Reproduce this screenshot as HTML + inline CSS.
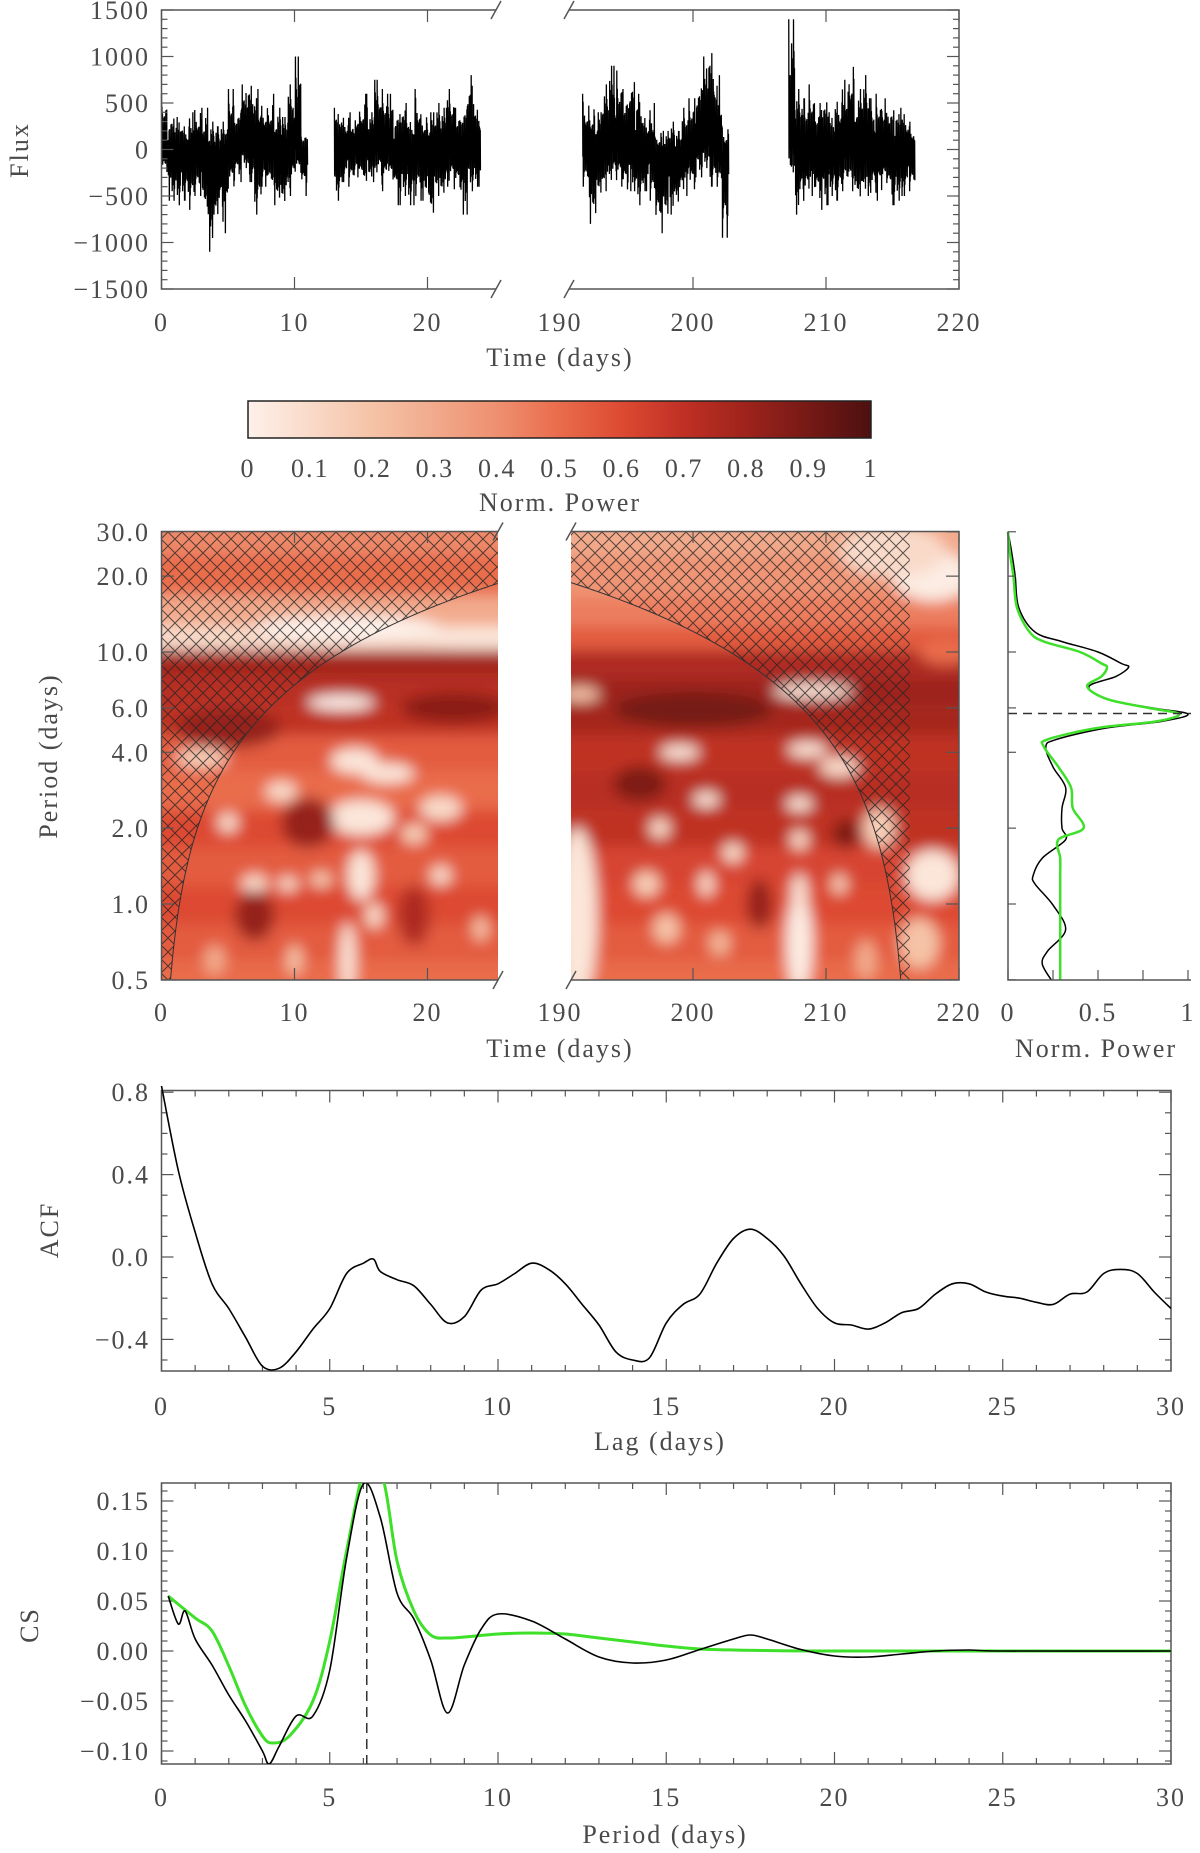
<!DOCTYPE html>
<html><head><meta charset="utf-8"><style>
html,body{margin:0;padding:0;background:#fff}
svg{display:block}
text{font-family:"Liberation Serif",serif;fill:#4a4a4a;font-size:26px;letter-spacing:2px}
</style></head><body>
<svg id="fig" width="1200" height="1853" viewBox="0 0 1200 1853" xmlns="http://www.w3.org/2000/svg">
<defs>
<pattern id="hatch" width="14" height="14" patternUnits="userSpaceOnUse">
<path d="M0,0 L14,14 M14,0 L0,14" stroke="#222" stroke-width="1" fill="none" opacity="0.75"/>
</pattern>
<filter id="blur" x="-5%" y="-5%" width="110%" height="110%"><feGaussianBlur stdDeviation="7"/></filter>
<linearGradient id="cbar" x1="0" x2="1" y1="0" y2="0">
<stop offset="0" stop-color="#fdf1ea"/><stop offset="0.2" stop-color="#f5c3a7"/><stop offset="0.4" stop-color="#ee9070"/>
<stop offset="0.5" stop-color="#e96c4c"/><stop offset="0.6" stop-color="#dd4a33"/><stop offset="0.7" stop-color="#bf3024"/>
<stop offset="0.8" stop-color="#9e231b"/><stop offset="1" stop-color="#4d1010"/></linearGradient>
<clipPath id="clipL"><rect x="161.5" y="531.5" width="336.5" height="448.5"/></clipPath>
<clipPath id="clipR"><rect x="571" y="531.5" width="388" height="448.5"/></clipPath>
<clipPath id="clipSide"><rect x="1000" y="531.5" width="200" height="448.5"/></clipPath>
<clipPath id="clipCS"><rect x="161.5" y="1483" width="1010" height="281"/></clipPath>
</defs>
<g id="g-flux"></g>
<g id="g-cbar"></g>
<g id="g-wave"></g>
<g id="g-side"></g>
<g id="g-acf"></g>
<g id="g-cs"></g>
</svg>
<script>
// ---------- data ----------
const fluxSeg1Start = 0;
const fluxSeg1 = [[600,-300],[400,-550],[350,-600],[300,-550],[400,-650],[500,-500],[450,-700],[300,-1100],[250,-800],[300,-900],[650,-500],[450,-350],[700,-200],[800,-350],[650,-700],[550,-400],[600,-450],[450,-600],[350,-650],[700,-500],[1000,-300],[200,-500]];
const fluxSeg2Start = 13;
const fluxSeg2 = [[450,-550],[400,-350],[400,-400],[500,-300],[600,-400],[400,-350],[750,-300],[650,-450],[600,-400],[450,-600],[500,-500],[350,-600],[650,-500],[450,-550],[400,-800],[500,-500],[450,-550],[650,-400],[450,-500],[500,-700],[800,-450],[500,-400]];
const fluxSeg3Start = 191.7;
const fluxSeg3 = [[600,-400],[550,-800],[400,-550],[700,-450],[900,-400],[850,-400],[650,-550],[850,-450],[600,-600],[400,-450],[500,-550],[250,-900],[200,-800],[300,-700],[200,-650],[450,-500],[550,-550],[750,-300],[1000,-200],[1200,-400],[800,-400],[300,-950]];
const fluxSeg4Start = 207.2;
const fluxSeg4 = [[1400,-300],[650,-700],[550,-650],[700,-500],[500,-650],[600,-600],[400,-500],[600,-550],[750,-450],[1100,-450],[650,-600],[800,-500],[550,-550],[600,-550],[550,-450],[500,-600],[450,-550],[450,-500],[300,-450]];
const fluxYTicks = [1500,1000,500,0,-500,-1000,-1500];
const timeTicks = [0,10,20,190,200,210,220];
const cbarTicks = [0,0.1,0.2,0.3,0.4,0.5,0.6,0.7,0.8,0.9,1];

const bandPeriods = [30,20,14,11.5,9,7,5.5,4,2.8,2,1.4,1,0.7,0.5];
const bandLeft  = [0.42,0.5,0.3,0.1,0.78,0.72,0.7,0.55,0.5,0.6,0.55,0.6,0.55,0.5];
const bandRight = [0.3,0.38,0.45,0.55,0.75,0.8,0.78,0.7,0.72,0.7,0.62,0.6,0.55,0.5];
// blobs: [time, period, power, half-width (days), half-height (log10 period)]
const waveBlobs = [
 [14,12.5,0.0,7,0.05],[24,11.5,0.05,5,0.04],[13.5,6.3,0.0,2.5,0.03],[22,6,0.85,4,0.06],[5,5,0.82,4,0.08],
 [14.5,3.7,0.05,1.8,0.05],[17,3.3,0.05,2,0.04],[9,2.8,0.1,1.2,0.04],[15,2.2,0.05,2.5,0.07],[21,2.4,0.1,1.6,0.05],
 [19,1.9,0.15,1,0.04],[3,3.8,0.15,2,0.04],[5,2.1,0.1,0.8,0.04],[11,2.1,0.82,2,0.1],[7,1.2,0.1,1,0.04],
 [9.5,1.2,0.1,0.8,0.03],[12,1.25,0.15,0.8,0.03],[15,1.3,0.05,1,0.1],[16,0.9,0.1,0.7,0.05],[7,0.9,0.82,1.5,0.1],
 [19,0.9,0.75,1.2,0.12],[14,0.6,0.05,0.6,0.15],[21,1.3,0.1,0.8,0.04],[24,0.8,0.2,0.6,0.05],[10,0.6,0.2,0.6,0.06],[4,0.6,0.3,0.8,0.06],
 [201,5.8,0.98,3,0.03],[200,5.9,0.9,6,0.07],[191.5,6.8,0.2,1.5,0.03],[209,7,0.05,3,0.03],[199,4,0.05,1.5,0.03],
 [208.6,4.1,0.05,1.5,0.03],[211,3.5,0.1,1.5,0.04],[196,3.0,0.88,2,0.07],[211.5,1.9,0.88,1,0.06],[201,2.6,0.05,1,0.03],
 [208,2.5,0.05,1,0.03],[197.5,2,0.1,0.8,0.04],[203,1.6,0.1,0.8,0.04],[208,1.8,0.1,0.7,0.04],[196.5,1.2,0.15,1,0.05],
 [201,1.2,0.1,0.6,0.05],[198,0.8,0.2,1,0.06],[211,1.2,0.15,0.6,0.04],[202,0.7,0.25,0.8,0.05],[205,1,0.82,1,0.1],
 [191.3,0.9,0.05,1.5,0.35],[208,0.7,0.02,1,0.2],[208,1.1,0.05,0.6,0.08],[214,2,0.15,1.2,0.08],[218,1.3,0.05,2,0.1],
 [217,0.7,0.2,1.5,0.1],[218,20,0.02,3,0.1],[215,25,0.1,4,0.1],[219,10,0.5,2,0.05],[213,0.6,0.3,0.8,0.08]
];
const waveYTicks = [30,20,10,6,4,2,1,0.5];
const sidePeriods = [30,25,20,15,12,11,10,9,8.7,8,7.3,6.5,6,5.67,5.3,5,4.5,4.2,3.5,2.9,2.4,2,1.8,1.52,1.3,1.2,0.99,0.79,0.65,0.58,0.5];
const sideBlack = [0.0,0.02,0.04,0.06,0.15,0.3,0.5,0.63,0.67,0.6,0.45,0.55,0.8,1.0,0.85,0.55,0.27,0.21,0.25,0.32,0.3,0.3,0.32,0.19,0.14,0.15,0.25,0.32,0.22,0.19,0.24];
const sideGreen = [0.0,0.01,0.03,0.05,0.12,0.2,0.4,0.52,0.55,0.52,0.44,0.55,0.78,0.95,0.82,0.5,0.22,0.2,0.28,0.35,0.36,0.42,0.28,0.29,0.29,0.29,0.29,0.29,0.29,0.29,0.29];
const sidePeak = 5.7;

const acfLag = [0,0.5,1,1.5,2,2.5,3,3.5,4,4.5,5,5.5,6,6.3,6.5,7,7.5,8,8.5,9,9.5,10,10.5,11,11.5,12,12.5,13,13.5,14,14.5,15,15.5,16,16.5,17,17.5,18,18.5,19,19.5,20,20.5,21,21.5,22,22.5,23,23.5,24,24.5,25,25.5,26,26.5,27,27.5,28,28.5,29,29.5,30];
const acfVal = [0.83,0.42,0.12,-0.13,-0.25,-0.39,-0.53,-0.54,-0.46,-0.35,-0.25,-0.08,-0.03,-0.01,-0.07,-0.11,-0.14,-0.23,-0.32,-0.29,-0.16,-0.13,-0.08,-0.03,-0.06,-0.13,-0.23,-0.33,-0.46,-0.5,-0.49,-0.32,-0.23,-0.18,-0.03,0.09,0.135,0.09,0.005,-0.13,-0.25,-0.32,-0.33,-0.35,-0.32,-0.27,-0.25,-0.18,-0.13,-0.13,-0.17,-0.19,-0.2,-0.22,-0.23,-0.18,-0.17,-0.08,-0.06,-0.08,-0.17,-0.25];
const acfYTicks = [0.8,0.4,0.0,-0.4];
const lagTicks = [0,5,10,15,20,25,30];

const csPer = [0.2,0.5,0.7,1,1.5,2,2.5,3,3.2,3.5,4,4.5,5,5.5,6,6.5,7,7.5,8,8.5,9,9.5,10,11,12,13,14,15,16,17,17.5,18,19,20,21,22,23,24,25,30];
const csBlack = [0.055,0.027,0.04,0.012,-0.014,-0.044,-0.07,-0.1,-0.113,-0.095,-0.065,-0.065,-0.019,0.093,0.167,0.134,0.058,0.032,-0.009,-0.062,-0.014,0.022,0.037,0.03,0.012,-0.006,-0.012,-0.009,0.0015,0.012,0.016,0.012,0.0015,-0.005,-0.006,-0.003,0,0.001,0,0];
const csGPer = [0.2,1,1.5,2,2.5,3,3.3,3.8,4.5,5,5.5,6.1,6.6,7,7.5,8,8.5,9,10,11,12,13,14,15,16,17,18,20,30];
const csGreen = [0.055,0.033,0.02,-0.015,-0.055,-0.085,-0.092,-0.085,-0.05,0.01,0.1,0.19,0.17,0.09,0.04,0.016,0.013,0.014,0.017,0.018,0.017,0.013,0.009,0.005,0.002,0.001,0.0005,0,0];
const csPeak = 6.1;
const csYTicks = [0.15,0.10,0.05,0.00,-0.05,-0.10];

// ---------- helpers ----------
const NS='http://www.w3.org/2000/svg';
function mk(tag, attrs, parent){const e=document.createElementNS(NS,tag);for(const k in attrs)e.setAttribute(k,attrs[k]);parent.appendChild(e);return e;}
function txt(parent,x,y,s,anchor,extra){const t=mk('text',Object.assign({x:x,y:y,'text-anchor':anchor||'middle'},extra||{}),parent);t.textContent=s;return t;}
function smoothPath(pts){let d='M'+pts[0][0].toFixed(1)+','+pts[0][1].toFixed(1);
 for(let i=0;i<pts.length-1;i++){const p0=pts[Math.max(0,i-1)],p1=pts[i],p2=pts[i+1],p3=pts[Math.min(pts.length-1,i+2)];
  const c1=[p1[0]+(p2[0]-p0[0])/6,p1[1]+(p2[1]-p0[1])/6],c2=[p2[0]-(p3[0]-p1[0])/6,p2[1]-(p3[1]-p1[1])/6];
  d+=' C'+c1[0].toFixed(1)+','+c1[1].toFixed(1)+' '+c2[0].toFixed(1)+','+c2[1].toFixed(1)+' '+p2[0].toFixed(1)+','+p2[1].toFixed(1);}
 return d;}
const cmapStops=[[0,[253,241,234]],[0.2,[245,195,167]],[0.4,[238,144,112]],[0.5,[233,108,76]],[0.6,[221,74,51]],[0.7,[191,48,36]],[0.8,[158,35,27]],[1,[77,16,16]]];
function cmap(v){v=Math.max(0,Math.min(1,v));for(let i=0;i<cmapStops.length-1;i++){const a=cmapStops[i],b=cmapStops[i+1];
 if(v<=b[0]){const f=(v-a[0])/(b[0]-a[0]);const c=a[1].map((x,j)=>Math.round(x+(b[1][j]-x)*f));return 'rgb('+c.join(',')+')';}}return 'rgb(77,16,16)';}
const AX='#555';

// ---------- flux panel ----------
const fx = t => t<100 ? 161.5 + t*13.3 : 560 + (t-190)*13.3;
const fy = v => 149.5 - v*0.093;
const gF=document.getElementById('g-flux');
// fixed excursion pattern (fraction of envelope reached by successive samples)
const frac=[1,0.45,0.7,0.25,0.6,0.35,0.8,0.2,0.55,0.4,0.65,0.3,0.5,0.15,0.75,0.4,0.6,0.25,0.48,0.32,0.68,0.22,0.58,0.38,0.85,0.28,0.52,0.18,0.62,0.43,0.72];
[[fluxSeg1Start,fluxSeg1],[fluxSeg2Start,fluxSeg2],[fluxSeg3Start,fluxSeg3],[fluxSeg4Start,fluxSeg4]].forEach((seg,si)=>{
 const pts=[];const start=seg[0];const bins=seg[1];const N=28;
 bins.forEach((b,bi)=>{
  const nb=bins[Math.min(bins.length-1,bi+1)];
  for(let k=0;k<N;k++){const f0=k/N;const t=start+bi*0.5+f0*0.5;
   const hi=b[0]*(1-f0)+nb[0]*f0, lo=b[1]*(1-f0)+nb[1]*f0;
   const mid=(hi+lo)/2*0.35;
   let f=frac[(k*7+bi*11+si*5)%frac.length];
   if(k===(bi*5)%N) f=1;
   const v=(k%2===0)?mid+(b[0]-mid)*f:mid-(mid-b[1])*f;
   pts.push(fx(t).toFixed(2)+','+fy(v).toFixed(1));}});
 const pl=mk('polyline',{points:pts.join(' '),fill:'none',stroke:'#000','stroke-width':1.3},gF);
 
 
});
function brokenFrame(g,x0,xa,xb,x1,y0,y1){
 mk('path',{d:`M${xa},${y0} L${x0},${y0} L${x0},${y1} L${xa},${y1} M${xb},${y0} L${x1},${y0} L${x1},${y1} L${xb},${y1}`,fill:'none',stroke:AX,'stroke-width':1.5},g);
 [[xa,y0],[xa,y1],[xb,y0],[xb,y1]].forEach(p=>mk('line',{x1:p[0]-5,y1:p[1]+9,x2:p[0]+5,y2:p[1]-9,stroke:AX,'stroke-width':1.5},g));
}
brokenFrame(gF,161.5,496,569,959,10,289);
for(let v=-1500;v<=1500;v+=100){const major=v%500===0;const L=major?12:6;
 mk('line',{x1:161.5,x2:161.5+L,y1:fy(v),y2:fy(v),stroke:AX,'stroke-width':1.2},gF);
 mk('line',{x1:959,x2:959-L,y1:fy(v),y2:fy(v),stroke:AX,'stroke-width':1.2},gF);}
fluxYTicks.forEach(v=>{const t=txt(gF,150,fy(v)+9,(v<0?'\u2212':'')+Math.abs(v),'end');});
timeTicks.forEach(v=>{const x=fx(v);if(v!==190){mk('line',{x1:x,x2:x,y1:289,y2:277,stroke:AX,'stroke-width':1.2},gF);mk('line',{x1:x,x2:x,y1:10,y2:22,stroke:AX,'stroke-width':1.2},gF);}
 const t=txt(gF,x,331,String(v));});
txt(gF,560,366,'Time (days)');
txt(gF,0,0,'Flux','middle',{transform:'translate(28,150) rotate(-90)',});

// ---------- colorbar ----------
const gC=document.getElementById('g-cbar');
mk('rect',{x:248,y:401,width:623,height:37,fill:'url(#cbar)',stroke:'#222','stroke-width':1.5,},gC);
cbarTicks.forEach(v=>{const t=txt(gC,248+v*623,477,String(v));});
txt(gC,560,511,'Norm. Power');

// ---------- wavelet ----------
const wx = t => t<100 ? 161.5 + t*13.3 : 560 + (t-190)*13.3;
const wy = p => 652 - 252*Math.log10(p/10);
const gW=document.getElementById('g-wave');
function drawWaveSeg(clip,tStart,tEnd,bands,inSeg){
 const gc=mk('g',{'clip-path':`url(#${clip})`},gW);
 const gb=mk('g',{filter:'url(#blur)'},gc);
 for(let i=0;i<bandPeriods.length;i++){
  const yTop=i===0?wy(bandPeriods[0])-40:(wy(bandPeriods[i-1])+wy(bandPeriods[i]))/2;
  const yBot=i===bandPeriods.length-1?wy(bandPeriods[i])+40:(wy(bandPeriods[i])+wy(bandPeriods[i+1]))/2;
  const r=mk('rect',{x:wx(tStart)-30,y:yTop,width:wx(tEnd)-wx(tStart)+60,height:yBot-yTop,fill:cmap(bands[i])},gb);
  
  
 }
 waveBlobs.filter(b=>inSeg(b[0])).forEach(b=>{
  const cy=wy(b[1]);const ry=Math.abs(wy(b[1]*Math.pow(10,b[4]))-cy);
  const e=mk('ellipse',{cx:wx(b[0]),cy:cy,rx:b[3]*13.3,ry:ry,fill:cmap(b[2])},gb);
  
  
 });
 return gc;
}
const gcL=drawWaveSeg('clipL',0,25.3,bandLeft,t=>t<100);
const gcR=drawWaveSeg('clipR',190.7,220,bandRight,t=>t>100);
// cone of influence
const coiK=0.74;
(function(){
 const pts=[];
 for(let t=0.68;t<=25.4;t+=0.2){const p=Math.min(30,coiK*t);pts.push([wx(t),wy(Math.max(0.5,p))]);}
 let dl='M161.5,980 '+pts.map(p=>'L'+p[0].toFixed(1)+','+p[1].toFixed(1)).join(' ')+' L498,531.5 L161.5,531.5 Z';
 const h=mk('path',{d:dl,fill:'url(#hatch)'},gcL);
 mk('polyline',{points:pts.map(p=>p.join(',')).join(' '),fill:'none',stroke:'#333','stroke-width':1},gcL);
 const end=216.3;const ptsR=[];
 for(let t=190.6;t<=end-0.67;t+=0.2){const p=coiK*(end-t);ptsR.push([wx(t),wy(Math.max(0.5,p))]);}
 ptsR.push([wx(end-0.67),980]);
 let dr='M571,531.5 '+ptsR.map(p=>'L'+p[0].toFixed(1)+','+p[1].toFixed(1)).join(' ')+` L${wx(end)},980 L${wx(end)},531.5 Z`;
 const hr=mk('path',{d:dr,fill:'url(#hatch)'},gcR);
 mk('polyline',{points:ptsR.map(p=>p.join(',')).join(' '),fill:'none',stroke:'#333','stroke-width':1},gcR);
})();
brokenFrame(gW,161.5,498,571,959,531.5,980);
waveYTicks.forEach(p=>{const y=wy(p);mk('line',{x1:161.5,x2:174,y1:y,y2:y,stroke:AX,'stroke-width':1.2},gW);mk('line',{x1:959,x2:946,y1:y,y2:y,stroke:AX,'stroke-width':1.2},gW);
 const t=txt(gW,150,y+9,p.toFixed(1),'end');});
timeTicks.forEach(v=>{const x=wx(v);if(v!==190){mk('line',{x1:x,x2:x,y1:980,y2:968,stroke:AX,'stroke-width':1.2},gW);mk('line',{x1:x,x2:x,y1:531.5,y2:543,stroke:AX,'stroke-width':1.2},gW);}
 const t=txt(gW,x,1021,String(v));});
txt(gW,560,1057,'Time (days)');
txt(gW,0,0,'Period (days)','middle',{transform:'translate(57,756) rotate(-90)',});

// ---------- side global power ----------
const gS=document.getElementById('g-side');
const sx = v => 1008 + v*180;
const gsc=mk('g',{'clip-path':'url(#clipSide)'},gS);
const pb=mk('path',{d:smoothPath(sidePeriods.map((p,i)=>[sx(sideBlack[i]),wy(p)])),fill:'none',stroke:'#000','stroke-width':1.5},gsc);

const pg=mk('path',{d:smoothPath(sidePeriods.map((p,i)=>[sx(sideGreen[i]),wy(p)])),fill:'none',stroke:'#3ee02a','stroke-width':2.5},gsc);

mk('line',{x1:1008,x2:1191,y1:wy(sidePeak),y2:wy(sidePeak),stroke:'#333','stroke-width':1.5,'stroke-dasharray':'9,6',},gS);
mk('path',{d:'M1008,531.5 L1008,980 L1191,980',fill:'none',stroke:AX,'stroke-width':1.5},gS);
waveYTicks.forEach(p=>mk('line',{x1:1008,x2:1016,y1:wy(p),y2:wy(p),stroke:AX,'stroke-width':1.2},gS));
[0,0.25,0.5,0.75,1].forEach(v=>mk('line',{x1:sx(v),x2:sx(v),y1:980,y2:970,stroke:AX,'stroke-width':1.2},gS));
[[0,'0'],[0.5,'0.5'],[1,'1']].forEach(a=>{const t=txt(gS,sx(a[0]),1021,a[1]);});
txt(gS,1096,1057,'Norm. Power');

// ---------- ACF ----------
const gA=document.getElementById('g-acf');
const ax = l => 161.5 + l*33.65;
const ay = v => 1257 - v*206;
mk('rect',{x:161.5,y:1090.5,width:1009.5,height:280.5,fill:'none',stroke:AX,'stroke-width':1.5},gA);
for(let l=0;l<=30;l++){const L=l%5===0?12:6;mk('line',{x1:ax(l),x2:ax(l),y1:1371,y2:1371-L,stroke:AX,'stroke-width':1.2},gA);mk('line',{x1:ax(l),x2:ax(l),y1:1090.5,y2:1090.5+L,stroke:AX,'stroke-width':1.2},gA);}
for(let v=-0.5;v<=0.81;v+=0.1){const m=Math.abs(Math.round(v*10))%4===0;const L=m?12:6;const y=ay(v);
 mk('line',{x1:161.5,x2:161.5+L,y1:y,y2:y,stroke:AX,'stroke-width':1.2},gA);mk('line',{x1:1171,x2:1171-L,y1:y,y2:y,stroke:AX,'stroke-width':1.2},gA);}
const ap=mk('path',{d:smoothPath(acfLag.map((l,i)=>[ax(l),ay(acfVal[i])])),fill:'none',stroke:'#000','stroke-width':1.6},gA);

acfYTicks.forEach(v=>{const t=txt(gA,150,ay(v)+9,(v<0?'\u2212':'')+Math.abs(v).toFixed(1),'end');});
lagTicks.forEach(l=>{const t=txt(gA,ax(l),1415,String(l));});
txt(gA,660,1450,'Lag (days)');
txt(gA,0,0,'ACF','middle',{transform:'translate(58,1230) rotate(-90)',});

// ---------- CS ----------
const gCS=document.getElementById('g-cs');
const cx = p => 161.5 + p*33.65;
const cy = v => 1651 - v*1000;
mk('rect',{x:161.5,y:1483,width:1009.5,height:281,fill:'none',stroke:AX,'stroke-width':1.5},gCS);
for(let l=0;l<=30;l++){const L=l%5===0?12:6;mk('line',{x1:cx(l),x2:cx(l),y1:1764,y2:1764-L,stroke:AX,'stroke-width':1.2},gCS);mk('line',{x1:cx(l),x2:cx(l),y1:1483,y2:1483+L,stroke:AX,'stroke-width':1.2},gCS);}
for(let k=-11;k<=16;k++){const v=k/100;const L=k%5===0?12:6;const y=cy(v);
 mk('line',{x1:161.5,x2:161.5+L,y1:y,y2:y,stroke:AX,'stroke-width':1.2},gCS);mk('line',{x1:1171,x2:1171-L,y1:y,y2:y,stroke:AX,'stroke-width':1.2},gCS);}
const gcc=mk('g',{'clip-path':'url(#clipCS)'},gCS);
const cgp=mk('path',{d:smoothPath(csGPer.map((p,i)=>[cx(p),cy(csGreen[i])])),fill:'none',stroke:'#3ee02a','stroke-width':3},gcc);

const cbp=mk('path',{d:smoothPath(csPer.map((p,i)=>[cx(p),cy(csBlack[i])])),fill:'none',stroke:'#000','stroke-width':1.6},gcc);

mk('line',{x1:cx(csPeak),x2:cx(csPeak),y1:1483,y2:1764,stroke:'#333','stroke-width':1.5,'stroke-dasharray':'10,6',},gCS);
csYTicks.forEach(v=>{const t=txt(gCS,150,cy(v)+9,(v<0?'\u2212':'')+Math.abs(v).toFixed(2),'end');});
lagTicks.forEach(l=>{const t=txt(gCS,cx(l),1806,String(l));});
txt(gCS,665,1843,'Period (days)');
txt(gCS,0,0,'CS','middle',{transform:'translate(38,1625) rotate(-90)',});
</script>
</body></html>
